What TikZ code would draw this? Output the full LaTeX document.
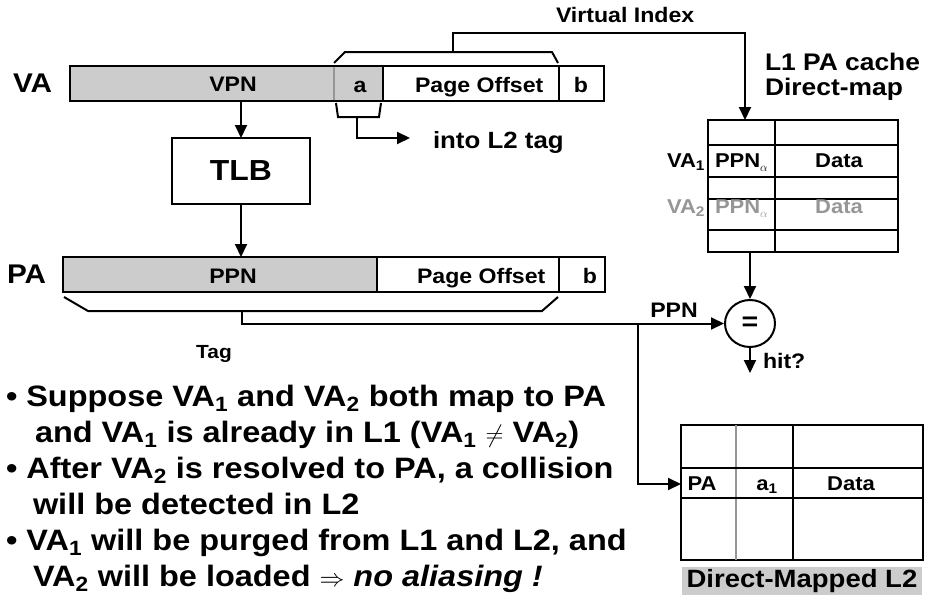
\documentclass[tikz,border=0pt]{standalone}
\usepackage{fontspec}
\setmainfont[FakeStretch=1.1]{Liberation Sans}
\usetikzlibrary{arrows.meta,shapes.geometric}
\definecolor{cellgray}{RGB}{204,204,204}
\definecolor{fadedtext}{RGB}{150,150,150}
\newcommand\fz[1]{\fontsize{#1}{#1}\selectfont\bfseries}
% small lowered alpha used as the tag subscript in the L1 cache
\newcommand\tagalpha{\raisebox{-0.22em}{\fontsize{13}{13}\selectfont$\alpha$}}
\begin{document}
\begin{tikzpicture}[x=1pt,y=-1pt,
  wire/.style={line width=2pt},
  arr/.style={wire,-{Triangle[length=13pt,width=12pt]}},
  box/.style={draw,line width=2pt,inner sep=0,outer sep=0},
  txt/.style={inner sep=0,outer sep=0,anchor=base},
  lbl/.style={txt,font=\fz{21}},
  celltxt/.style={txt,font=\fz{20}},
  note/.style={txt,anchor=base west,font=\fz{29.5}},
]
\useasboundingbox (0,0) rectangle (930,605);

% ---------- virtual address ----------
\fill[cellgray] (70,66) rectangle (383,101);
\draw[fadedtext,line width=2pt] (334,66) -- (334,101);
\draw[wire] (383,66) -- (383,101) (559,66) -- (559,101);
\node[box,minimum width=534,minimum height=35] (vabar) at (337,83.5) {};
\node[txt,anchor=base west,font=\fz{27}] (valbl) at (13,92) {VA};
\node[lbl] (vpn) at (233,91) {VPN};
\node[lbl] (abits) at (360,92) {a};
\node[lbl,anchor=base west] (vaoff) at (415,92) {Page Offset};
\node[lbl] (vab) at (581,92) {b};

% ---------- TLB ----------
\node[box,minimum width=138,minimum height=66,font=\fz{29}] (tlb) at (241,171) {TLB};

% ---------- physical address ----------
\fill[cellgray] (63,257) rectangle (377,292);
\draw[wire] (377,257) -- (377,292) (559,257) -- (559,292);
\node[box,minimum width=542,minimum height=35] (pabar) at (334,274.5) {};
\node[txt,anchor=base west,font=\fz{27}] (palbl) at (7,283) {PA};
\node[lbl] (ppn) at (233,283) {PPN};
\node[lbl,anchor=base west] (paoff) at (417,283) {Page Offset};
\node[lbl] (pab) at (590,283) {b};

\draw[arr] (tlb.north |- vabar.south) -- (tlb.north);
\draw[arr] (tlb.south) -- (tlb.south |- pabar.north);

% ---------- L1 cache ----------
\node[box,minimum width=190,minimum height=132] (l1) at (803,186) {};
\draw[wire] (708,145) -- (898,145) (708,177) -- (898,177)
            (708,199) -- (898,199) (708,230) -- (898,230)
            (775,120) -- (775,252);
\node[txt,anchor=base west,font=\fz{21}] (vidx) at (556,22) {Virtual Index};
\node[txt,anchor=base west,font=\fz{24}] (l1name) at (765,70) {L1 PA cache};
\node[txt,anchor=base west,font=\fz{24}] (l1kind) at (765,95) {Direct-map};
\node[celltxt,anchor=base east] (va1) at (705,167) {VA\textsubscript{1}};
\node[celltxt,anchor=base west] (ppn1) at (715,167) {PPN\tagalpha};
\node[celltxt] (data1) at (839,167) {Data};
\node[celltxt,anchor=base east,text=fadedtext] (va2) at (705,213) {VA\textsubscript{2}};
\node[celltxt,anchor=base west,text=fadedtext] (ppn2) at (715,213) {PPN\tagalpha};
\node[celltxt,text=fadedtext] (data2) at (839,213) {Data};

% index bits: bracket over a + page offset, routed to the L1 index
\draw[wire] (334,63) -- (345,52) -- (552,52) -- (558,63);
\coordinate (vistub) at (453,52);
\coordinate (l1in) at (745,120);
\draw[arr] (vistub) -- ++(0,-19) -| (l1in);

% a bits into the L2 tag
\draw[wire] (336,103) -- (338,117) -- (379,117) -- (381,103);
\coordinate (astub) at (357,117);
\coordinate (l2tagin) at (410,138);
\node[txt,anchor=base west,font=\fz{23.5}] (intol2) at (433,148) {into L2 tag};
\draw[arr] (astub) |- (l2tagin);

% ---------- tag compare ----------
\draw[wire] (64,297) -- (88,311) -- (542,311) -- (558,297);
\coordinate (tagstub) at (242,311);
\node[txt,font=\fz{19}] (taglbl) at (214,358) {Tag};
\node[draw,line width=2pt,ellipse,minimum width=50,minimum height=47,inner sep=0,
      font=\fz{26}] (cmp) at (750,323.5) {=};
\node[lbl] (ppnlbl) at (674,317) {PPN};
\draw[arr] (tagstub) |- (cmp.west);
\draw[arr] (l1.south -| cmp) -- (cmp.north);
\coordinate (hitend) at (750,373);
\draw[arr] (cmp.south) -- (hitend);
\node[lbl,anchor=base west] (hit) at (763,368) {hit?};

% ---------- L2 cache ----------
\node[box,minimum width=242,minimum height=135] (l2) at (802,492.5) {};
\draw[fadedtext,line width=2pt] (736,425) -- (736,560);
\draw[wire] (793,425) -- (793,560) (681,468) -- (923,468) (681,498) -- (923,498);
\node[celltxt] (l2pa) at (702,490) {PA};
\node[celltxt] (l2a) at (767,490) {a\textsubscript{1}};
\node[celltxt] (l2data) at (851,490) {Data};
\node[fill=cellgray,minimum width=240,minimum height=28,inner sep=0,font=\fz{25}]
     (l2name) at (802,581) {Direct-Mapped L2};
\coordinate (branch) at (638,325);
\coordinate (l2in) at (681,484);
\draw[arr] (branch) |- (l2in);

% ---------- notes ----------
\node[note] (n1) at (6,406)
  {\textbullet\ Suppose VA\textsubscript{1} and VA\textsubscript{2} both map to PA};
\node[note] (n2) at (35,442)
  {and VA\textsubscript{1} is already in L1 (VA\textsubscript{1} $\neq$ VA\textsubscript{2})};
\node[note] (n3) at (6,478)
  {\textbullet\ After VA\textsubscript{2} is resolved to PA, a collision};
\node[note] (n4) at (33,514)
  {will be detected in L2};
\node[note] (n5) at (6,550)
  {\textbullet\ VA\textsubscript{1} will be purged from L1 and L2, and};
\node[note] (n6) at (33,586)
  {VA\textsubscript{2} will be loaded $\Rightarrow$ \textit{no aliasing !}};
\end{tikzpicture}
\end{document}
